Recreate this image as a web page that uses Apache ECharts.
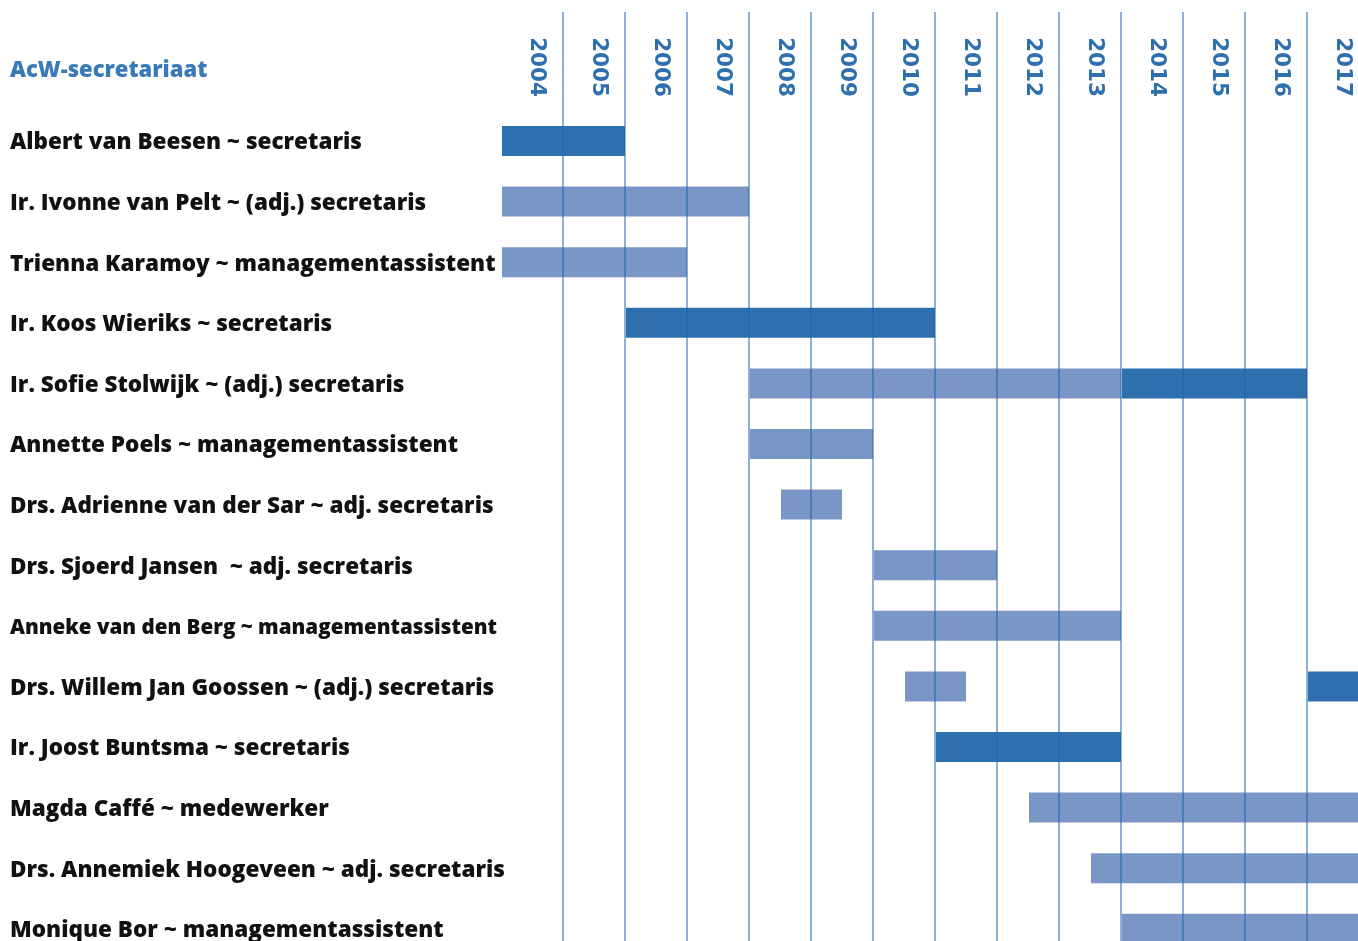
<!DOCTYPE html>
<html>
<head>
<meta charset="utf-8">
<script src="https://cdn.jsdelivr.net/npm/echarts@6/dist/echarts.min.js"></script>
<style>
  html, body { margin: 0; padding: 0; background: #fff; }
  #chart { width: 1358px; height: 941px; }
</style>
</head>
<body>
<div id="chart"></div>
<script>
var title = 'AcW-secretariaat';

var years = ['2004', '2005', '2006', '2007', '2008', '2009', '2010',
             '2011', '2012', '2013', '2014', '2015', '2016', '2017'];

var people = [
    'Albert van Beesen ~ secretaris',
    'Ir. Ivonne van Pelt ~ (adj.) secretaris',
    'Trienna Karamoy ~ managementassistent',
    'Ir. Koos Wieriks ~ secretaris',
    'Ir. Sofie Stolwijk ~ (adj.) secretaris',
    'Annette Poels ~ managementassistent',
    'Drs. Adrienne van der Sar ~ adj. secretaris',
    'Drs. Sjoerd Jansen  ~ adj. secretaris',
    'Anneke van den Berg ~ managementassistent',
    'Drs. Willem Jan Goossen ~ (adj.) secretaris',
    'Ir. Joost Buntsma ~ secretaris',
    'Magda Caffé ~ medewerker',
    'Drs. Annemiek Hoogeveen ~ adj. secretaris',
    'Monique Bor ~ managementassistent'
];

// [row, from, to]  -- dark = secretaris
var darkSpans = [
    [0, 2004, 2006],
    [3, 2006, 2011],
    [4, 2014, 2017],
    [9, 2017, 2018],
    [10, 2011, 2014]
];

// light = (adj.) secretaris / assistent / medewerker
var lightSpans = [
    [1, 2004, 2008],
    [2, 2004, 2007],
    [4, 2008, 2014],
    [5, 2008, 2010],
    [6, 2008.5, 2009.5],
    [7, 2010, 2012],
    [8, 2010, 2014],
    [9, 2010.5, 2011.5],
    [11, 2012.5, 2018],
    [12, 2013.5, 2018],
    [13, 2014, 2018]
];

var darkColor = '#2e6fad';
var lightColor = '#7996c6';
var textFont = 'Open Sans';

function renderSpan(params, api) {
    var row = api.value(0);
    var p0 = api.coord([api.value(1), row]);
    var p1 = api.coord([api.value(2), row]);
    var h = 30;
    return {
        type: 'rect',
        shape: { x: p0[0] + 1, y: p0[1] - h / 2, width: p1[0] - p0[0] - 1, height: h },
        style: api.style()
    };
}

var chart = echarts.init(document.getElementById('chart'));

var option = {
    animation: false,
    title: {
        text: title,
        left: 5,
        top: 55,
        textStyle: {
            fontFamily: textFont,
            fontWeight: 800,
            fontSize: 22,
            color: '#3a79b9'
        }
    },
    grid: [
        // vertical year lines and year labels
        { left: 501, top: 12, width: 868, height: 960, outerBoundsMode: 'none' },
        // bars
        { left: 501, top: 110.7, width: 868, height: 848.4, outerBoundsMode: 'none' }
    ],
    xAxis: [
        {
            gridIndex: 0,
            type: 'value',
            min: 2004,
            max: 2018,
            interval: 1,
            z: 5,
            axisLine: { show: false },
            axisTick: { show: false },
            axisLabel: { show: false },
            splitLine: {
                show: true,
                showMinLine: false,
                lineStyle: { color: 'rgba(35,100,172,0.64)', width: 1.6 }
            }
        },
        {
            gridIndex: 0,
            type: 'category',
            data: years,
            position: 'top',
            offset: -86,
            boundaryGap: true,
            axisLine: { show: false },
            axisTick: { show: false },
            splitLine: { show: false },
            axisLabel: {
                rotate: 90,
                margin: 1,
                verticalAlign: 'bottom',
                lineHeight: 9,
                fontFamily: 'DejaVu Sans',
                fontWeight: 'bold',
                fontSize: 21.5,
                color: '#2e6fad'
            }
        },
        {
            gridIndex: 1,
            type: 'value',
            min: 2004,
            max: 2018,
            show: false
        }
    ],
    yAxis: [
        {
            gridIndex: 0,
            type: 'value',
            show: false
        },
        {
            gridIndex: 1,
            type: 'category',
            data: people,
            inverse: true,
            axisLine: { show: false },
            axisTick: { show: false },
            splitLine: { show: false },
            axisLabel: {
                align: 'left',
                margin: 491,
                padding: [4, 0, 0, 0],
                fontFamily: textFont,
                fontWeight: 800,
                fontSize: 22.5,
                color: '#111',
                // the Anneke line is set narrower in the original
                formatter: function (value, index) {
                    return index === 8 ? '{narrow|' + value + '}' : value;
                },
                rich: {
                    narrow: {
                        fontFamily: textFont,
                        fontWeight: 800,
                        fontSize: 20.6,
                        color: '#111'
                    }
                }
            }
        }
    ],
    series: [
        {
            name: 'secretaris',
            type: 'custom',
            xAxisIndex: 2,
            yAxisIndex: 1,
            renderItem: renderSpan,
            encode: { x: [1, 2], y: 0 },
            itemStyle: { color: darkColor },
            data: darkSpans,
            clip: true,
            z: 2
        },
        {
            name: 'overig',
            type: 'custom',
            xAxisIndex: 2,
            yAxisIndex: 1,
            renderItem: renderSpan,
            encode: { x: [1, 2], y: 0 },
            itemStyle: { color: lightColor },
            data: lightSpans,
            clip: true,
            z: 2
        }
    ]
};

chart.setOption(option);
</script>
</body>
</html>
